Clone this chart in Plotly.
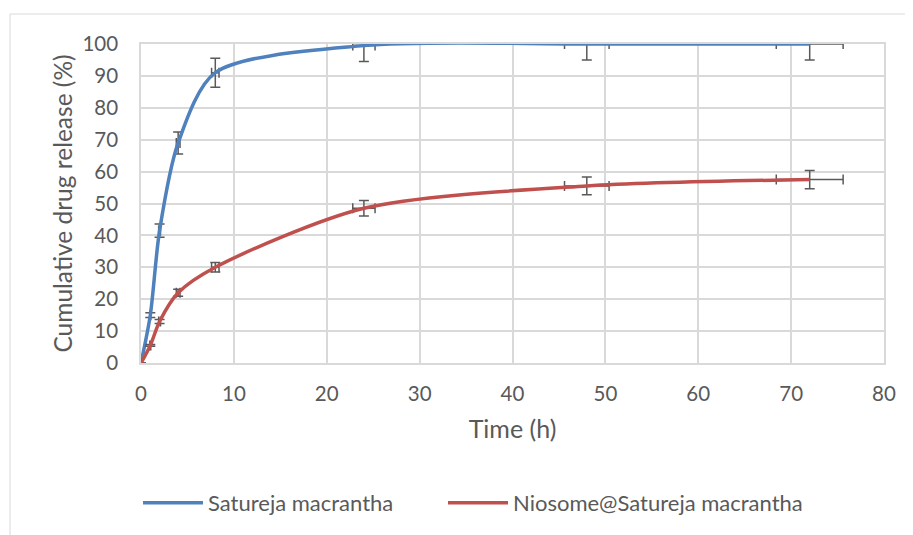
import plotly.graph_objects as go

time_h = [0, 1, 2, 4, 8, 24, 48, 72]
satureja = [0, 15, 41.5, 69, 91, 99.5, 100, 100]
niosome = [0, 5.5, 13, 22, 30, 48.5, 55.5, 57.5]
series_names = ["Satureja macrantha", "Niosome@Satureja macrantha"]
err_pct = 5

BLUE = "#4F81BD"
RED = "#C0504D"
ERR = "#595959"
FONT = "Lato, Noto Sans, sans-serif"

fig = go.Figure()
for name, ys, col, lg in [(series_names[0], satureja, BLUE, "legend"), (series_names[1], niosome, RED, "legend2")]:
    fig.add_trace(go.Scatter(
        x=time_h, y=ys, name=name, mode="lines", legend=lg,
        line=dict(color=col, width=3.5, shape="spline", smoothing=0.8),
        error_y=dict(type="percent", value=err_pct, color=ERR, thickness=1.5, width=5),
        error_x=dict(type="percent", value=err_pct, color=ERR, thickness=1.5, width=5),
    ))

# page has an 8px body margin; figure coordinates are page coordinates minus 8
OFF = 8
W, H = 913 - OFF, 535 - OFF
L, T = 141 - OFF, 44 - OFF
R = W - (884 - OFF)
B = H - (363 - OFF)
pw, ph = W - L - R, H - T - B
fig.add_shape(type="rect", xref="paper", yref="paper",
              x0=(10 - OFF - L) / pw, x1=1 + (R + 20) / pw,
              y0=-(B + 20) / ph, y1=1 + (T - (14 - OFF)) / ph,
              line=dict(color="#D9D9D9", width=1), fillcolor="rgba(0,0,0,0)", layer="below")

legend_common = dict(orientation="h", xanchor="left", y=-(503 - 363) / ph, yanchor="middle",
                     font=dict(size=22, color="#595959"), itemwidth=60, bgcolor="rgba(0,0,0,0)")

fig.update_layout(
    width=W, height=H,
    margin=dict(l=L, r=R, t=T, b=B, autoexpand=False),
    paper_bgcolor="white", plot_bgcolor="white",
    font=dict(family=FONT, size=20.5, color="#595959"),
    xaxis=dict(range=[0, 80], dtick=10, tick0=0, showgrid=True, gridcolor="#D9D9D9", gridwidth=1.5,
               zeroline=False, showline=True, linecolor="#BFBFBF", linewidth=1.5,
               ticks="", ticklabelstandoff=12,
               title=dict(text="Time (h)", font=dict(size=25), standoff=16)),
    yaxis=dict(range=[0, 100], dtick=10, tick0=0, showgrid=True, gridcolor="#D9D9D9", gridwidth=1.5,
               zeroline=False, showline=True, linecolor="#D9D9D9", linewidth=1.5, mirror=True,
               ticks="", ticklabelstandoff=17,
               title=dict(text="Cumulative drug release (%)", font=dict(size=24.5), standoff=3)),
    legend=dict(x=(138 - 141) / pw, **legend_common),
    legend2=dict(x=(443 - 141) / pw, **legend_common),
    showlegend=True,
)
fig.update_xaxes(mirror=True, linecolor="#D9D9D9")
fig.write_html("out.html")
